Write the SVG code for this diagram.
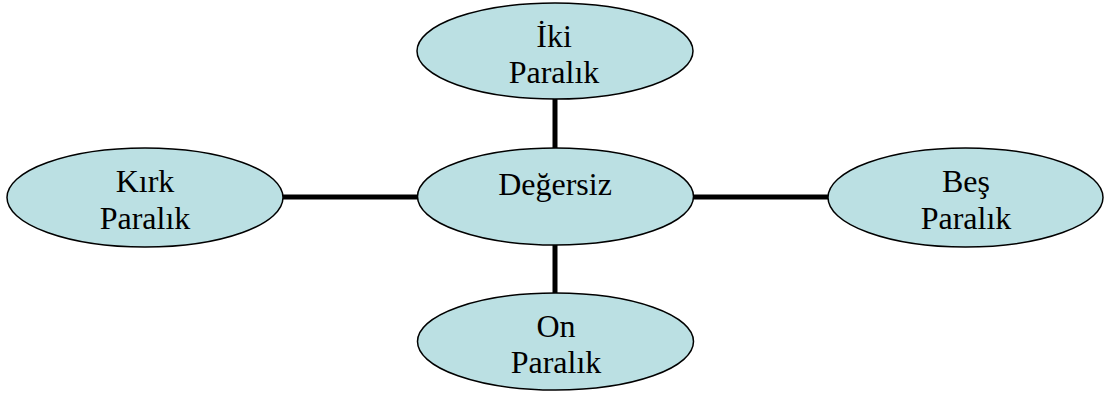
<svg xmlns="http://www.w3.org/2000/svg" width="1106" height="394" viewBox="0 0 1106 394">
<style>
.n ellipse{fill:#BBE0E3;stroke:#000;stroke-width:1.5}
.n text{font-family:"Liberation Serif","Times New Roman",serif;font-size:32px;fill:#000;text-anchor:middle}
.c line{stroke:#000;stroke-width:5}
</style>
<rect width="1106" height="394" fill="#fff"/>
<g class="c" id="connectors">
<line x1="555" y1="99" x2="555" y2="148"/>
<line x1="555" y1="245" x2="555" y2="293"/>
<line x1="283" y1="197" x2="418" y2="197"/>
<line x1="693" y1="197" x2="828" y2="197"/>
</g>
<g class="n" id="n-iki">
<ellipse cx="555" cy="51" rx="138" ry="48"/>
<text x="554" y="47">İki</text>
<text x="554" y="83">Paralık</text>
</g>
<g class="n" id="n-degersiz">
<ellipse cx="555.5" cy="196.5" rx="138" ry="48.5"/>
<text x="555" y="195">Değersiz</text>
</g>
<g class="n" id="n-kirk">
<ellipse cx="145" cy="197.5" rx="138" ry="49.5"/>
<text x="145" y="192">Kırk</text>
<text x="145" y="229">Paralık</text>
</g>
<g class="n" id="n-bes">
<ellipse cx="965.5" cy="197.5" rx="137.5" ry="49.5"/>
<text x="966" y="192">Beş</text>
<text x="966" y="229">Paralık</text>
</g>
<g class="n" id="n-on">
<ellipse cx="555.5" cy="341.5" rx="138" ry="48.5"/>
<text x="556" y="337">On</text>
<text x="556" y="373">Paralık</text>
</g>
</svg>
